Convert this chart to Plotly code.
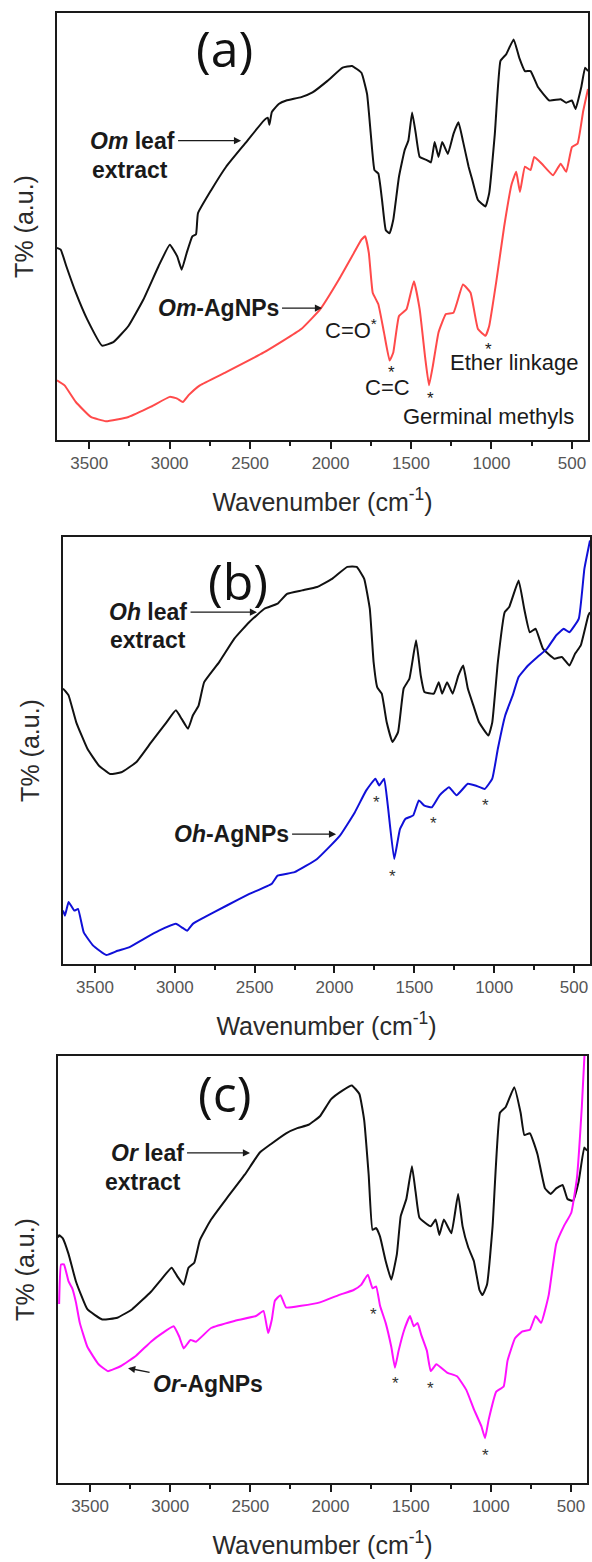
import plotly.graph_objects as go

# ---------------- data (wavenumber cm-1, transmittance a.u.) ----------------
om_leaf_wn = [3700, 3677, 3642, 3583, 3513, 3420, 3350, 3256, 3163, 3069, 2999, 2953, 2925, 2894, 2859, 2836, 2824,
              2742, 2649, 2532, 2415, 2390, 2380, 2365, 2322, 2275, 2182, 2112, 2019, 1925, 1867, 1808, 1773, 1750,
              1727, 1703, 1680, 1657, 1633, 1610, 1575, 1540, 1516, 1493, 1470, 1446, 1399, 1376, 1353, 1329, 1306,
              1271, 1236, 1205, 1177, 1142, 1119, 1084, 1037, 1014, 979, 944, 909, 862, 827, 792, 757, 710, 640, 570,
              535, 500, 477, 442, 418, 400]
om_leaf_t = [45.0, 44.6, 40.7, 34.5, 28.3, 22.1, 22.9, 26.7, 32.9, 40.7, 45.7, 43.0, 39.9, 43.8, 47.7, 48.2, 53.1,
             58.5, 64.0, 69.4, 74.8, 75.5, 73.8, 76.8, 78.7, 79.5, 80.3, 81.4, 84.1, 87.2, 87.6, 86.0, 81.0, 71.7,
             63.2, 62.4, 56.2, 49.2, 48.4, 51.6, 61.6, 67.8, 70.2, 76.7, 71.7, 66.3, 65.5, 65.0, 69.8, 66.3, 69.8,
             67.0, 71.7, 74.4, 70.0, 64.0, 60.9, 56.2, 54.7, 57.8, 71.7, 88.8, 90.3, 93.8, 89.5, 86.4, 86.4, 82.6,
             79.5, 79.8, 79.0, 79.5, 77.5, 82.6, 87.2, 86.4]

om_agnp_wn = [3700, 3653, 3583, 3490, 3396, 3256, 3116, 2999, 2953, 2918, 2882, 2812, 2649, 2415, 2182, 2065, 1948,
              1855, 1808, 1785, 1762, 1738, 1703, 1668, 1633, 1610, 1575, 1528, 1482, 1446, 1411, 1388, 1364, 1329,
              1283, 1236, 1177, 1130, 1084, 1037, 1014, 968, 921, 874, 846, 823, 792, 757, 734, 687, 617, 570, 535,
              500, 465, 430, 400]
om_agnp_t = [14.0, 12.8, 8.9, 5.4, 4.4, 5.4, 7.8, 10.1, 9.7, 8.9, 10.5, 12.8, 15.9, 20.5, 26.0, 30.6, 37.6,
             43.8, 46.9, 47.7, 43.8, 34.5, 31.8, 25.2, 18.6, 20.5, 29.0, 30.6, 37.2, 30.6, 19.0, 12.8, 17.4, 25.2,
             29.5, 29.8, 36.4, 34.5, 26.0, 24.4, 26.7, 37.6, 50.0, 60.0, 62.8, 58.1, 64.0, 63.2, 66.3, 64.7, 62.0,
             64.7, 62.8, 68.6, 69.4, 77.0, 82.2]

oh_leaf_wn = [3700, 3688, 3665, 3617, 3547, 3476, 3405, 3335, 3240, 3146, 3052, 2993, 2957, 2917, 2887, 2851, 2816,
              2722, 2627, 2533, 2439, 2356, 2297, 2203, 2109, 2015, 1920, 1861, 1814, 1779, 1755, 1732, 1704, 1673,
              1637, 1602, 1567, 1531, 1489, 1460, 1437, 1378, 1347, 1326, 1295, 1260, 1224, 1194, 1165, 1130, 1095,
              1036, 1012, 977, 934, 906, 847, 812, 777, 741, 694, 623, 576, 529, 493, 458, 411, 400]
oh_leaf_t = [64.5, 64.0, 62.9, 56.6, 50.4, 46.5, 44.5, 44.9, 47.3, 52.0, 56.6, 59.4, 57.4, 55.1, 58.2, 60.5, 66.0,
             70.7, 76.2, 80.1, 83.2, 84.4, 86.7, 87.5, 88.3, 90.2, 93.0, 93.0, 90.2, 83.2, 70.7, 64.8, 63.3, 56.6,
             52.0, 54.3, 64.5, 66.8, 75.8, 67.6, 63.7, 63.3, 66.0, 63.3, 66.0, 63.3, 67.6, 69.9, 64.5, 60.5, 56.6,
             53.5, 56.6, 70.7, 82.4, 83.6, 89.8, 83.2, 77.7, 78.5, 73.8, 71.5, 71.9, 69.9, 72.7, 74.6, 81.6, 82.4]

oh_agnp_wn = [3700, 3688, 3665, 3629, 3606, 3570, 3511, 3429, 3358, 3287, 3193, 3099, 2993, 2957, 2922, 2887, 2816,
              2674, 2533, 2392, 2356, 2250, 2109, 1967, 1873, 1802, 1744, 1720, 1689, 1666, 1626, 1590, 1555, 1507,
              1472, 1437, 1390, 1342, 1283, 1236, 1165, 1118, 1059, 1012, 977, 931, 884, 847, 788, 729, 670, 611,
              564, 529, 470, 435, 400]
oh_agnp_t = [12.5, 11.3, 14.5, 12.5, 12.9, 7.4, 4.3, 2.1, 3.1, 3.9, 5.9, 7.8, 9.4, 8.6, 7.8, 9.4, 10.9,
             13.7, 16.4, 18.8, 20.7, 21.5, 24.6, 30.0, 35.5, 40.6, 43.4, 41.8, 43.4, 37.1, 24.6, 31.6, 34.0, 34.8,
             38.3, 37.1, 36.7, 39.5, 41.4, 39.5, 42.2, 41.8, 41.0, 43.4, 50.4, 58.2, 62.9, 67.2, 69.9, 71.9, 73.8,
             77.0, 78.5, 77.7, 80.9, 92.6, 99.2]

or_leaf_wn = [3700, 3693, 3670, 3634, 3588, 3517, 3424, 3330, 3237, 3120, 3049, 2991, 2956, 2916, 2886, 2850, 2815,
              2745, 2651, 2535, 2441, 2371, 2277, 2207, 2137, 2066, 1996, 1926, 1867, 1820, 1790, 1762, 1738, 1715,
              1691, 1656, 1621, 1586, 1562, 1527, 1492, 1469, 1445, 1375, 1344, 1321, 1293, 1246, 1204, 1176, 1141,
              1106, 1071, 1052, 1024, 989, 943, 908, 854, 814, 791, 756, 709, 662, 627, 592, 552, 522, 487, 452,
              417, 400]
or_leaf_t = [57.5, 58.0, 57.3, 53.6, 47.2, 40.7, 38.3, 38.7, 40.7, 44.8, 48.0, 50.4, 48.4, 46.4, 50.4, 51.6, 56.9,
             61.7, 66.5, 72.2, 77.4, 79.4, 81.9, 83.1, 83.9, 85.9, 89.9, 91.9, 93.1, 91.1, 85.0, 72.2, 59.3, 59.7,
             57.7, 52.0, 47.6, 53.6, 62.5, 66.5, 74.2, 68.1, 62.1, 60.1, 61.7, 58.1, 61.7, 58.5, 67.7, 60.1, 55.2,
             52.0, 45.2, 44.0, 46.4, 60.1, 86.7, 88.0, 92.7, 86.7, 81.5, 81.9, 77.0, 69.0, 67.7, 69.0, 69.8, 66.5,
             66.1, 70.6, 78.6, 77.8]

or_agnp_wn = [3693, 3681, 3663, 3634, 3611, 3588, 3564, 3517, 3447, 3389, 3307, 3213, 3120, 3049, 2979, 2944, 2916,
              2874, 2839, 2745, 2605, 2465, 2418, 2389, 2366, 2347, 2312, 2277, 2183, 2066, 1949, 1856, 1809, 1767,
              1738, 1715, 1691, 1656, 1621, 1598, 1575, 1540, 1504, 1481, 1457, 1434, 1399, 1375, 1340, 1270, 1211,
              1153, 1106, 1059, 1036, 1013, 966, 920, 896, 849, 803, 756, 721, 686, 639, 592, 545, 498, 463, 432,
              416]
or_agnp_t = [41.9, 51.2, 51.2, 47.2, 45.6, 42.3, 37.5, 31.9, 27.8, 26.2, 27.4, 29.8, 33.1, 35.1, 36.7, 34.3, 31.5,
             33.5, 33.1, 36.3, 37.9, 39.1, 40.3, 35.1, 38.3, 42.7, 44.0, 41.1, 41.5, 42.3, 44.0, 45.2, 46.4, 48.8,
             45.6, 46.0, 41.5, 37.5, 31.9, 27.0, 31.0, 35.9, 39.1, 36.7, 37.5, 34.7, 31.0, 26.2, 27.8, 25.8, 25.0,
             21.8, 17.3, 13.3, 10.5, 14.9, 21.4, 22.6, 28.6, 33.9, 35.5, 35.9, 39.1, 37.5, 44.0, 56.0, 60.1, 63.3,
             71.4, 88.3, 100.0]

tick_vals = [3500, 3000, 2500, 2000, 1500, 1000, 500]
tick_text = ["3500", "3000", "2500", "2000", "1500", "1000", "500"]
x_range = [3700, 400]
y_range = [0, 100]

panel_labels = ["(a)", "(b)", "(c)"]
x_title = "Wavenumber (cm<sup>-1</sup>)"
y_title = "T% (a.u.)"

# ---------------- layout ----------------
W, H = 592, 1562
boxes = [  # left, right, top, bottom in px
    (57, 588, 13, 440),
    (63, 590, 537, 964),
    (58, 587, 1056, 1483),
]

FONT = "Liberation Sans, Arial, sans-serif"
LABEL_FONT = "Open Sans, Noto Sans, sans-serif"
fig = go.Figure()

series = [
    [(om_leaf_wn, om_leaf_t, "#111111", "Om leaf extract"), (om_agnp_wn, om_agnp_t, "#ff4a4a", "Om-AgNPs")],
    [(oh_leaf_wn, oh_leaf_t, "#111111", "Oh leaf extract"), (oh_agnp_wn, oh_agnp_t, "#1010d8", "Oh-AgNPs")],
    [(or_leaf_wn, or_leaf_t, "#111111", "Or leaf extract"), (or_agnp_wn, or_agnp_t, "#ff10ff", "Or-AgNPs")],
]

for i, (box, sers) in enumerate(zip(boxes, series)):
    n = "" if i == 0 else str(i + 1)
    l, r, t, b = box
    xa = dict(
        domain=[l / W, r / W], anchor="y" + n, range=x_range, automargin=False,
        showline=True, linecolor="#1a1a1a", linewidth=2, mirror=True,
        ticks="outside", ticklen=7, tickwidth=2, tickcolor="#1a1a1a",
        tickvals=tick_vals, ticktext=tick_text,
        tickfont=dict(family=FONT, size=17, color="#555555"),
        minor=dict(ticks="outside", ticklen=4, tickwidth=2, tickcolor="#1a1a1a", dtick=250, tick0=250),
        showgrid=False, zeroline=False,
        title=dict(text=x_title, font=dict(family=FONT, size=25, color="#2a2a2a"), standoff=21),
    )
    ya = dict(
        domain=[1 - b / H, 1 - t / H], anchor="x" + n, range=y_range, automargin=False,
        showline=True, linecolor="#1a1a1a", linewidth=2, mirror=True,
        ticks="", showticklabels=False, showgrid=False, zeroline=False,
        title=dict(text=y_title, font=dict(family=FONT, size=25, color="#2a2a2a"), standoff=14),
    )
    fig.update_layout(**{"xaxis" + n: xa, "yaxis" + n: ya})
    for wn, tv, col, name in sers:
        fig.add_trace(go.Scatter(x=wn, y=tv, mode="lines", name=name,
                                 line=dict(color=col, width=2, shape="spline", smoothing=0.35),
                                 xaxis="x" + n, yaxis="y" + n, showlegend=False))

ann = []


def txt(xref, x, y, text, size=22, xanchor="center", color="#1a1a1a", family=FONT, align="center"):
    ann.append(dict(xref=xref, yref=xref.replace("x", "y"), x=x, y=y, text=text, showarrow=False,
                    xanchor=xanchor, yanchor="middle", align=align,
                    font=dict(family=family, size=size, color=color)))


def arrow_label(xref, x, y, text, ax, ay, size=23):
    # label whose arrow points at (x, y); the text box is centred ax, ay pixels away
    ann.append(dict(xref=xref, yref=xref.replace("x", "y"), x=x, y=y, text=text, showarrow=True,
                    ax=ax, ay=ay, arrowhead=2, arrowsize=1.1, arrowwidth=1.3, arrowcolor="#1a1a1a",
                    standoff=0, startstandoff=2,
                    font=dict(family=FONT, size=size, color="#1a1a1a")))


# panel (a)
txt("x", 2656, 91.8, panel_labels[0], size=50, family=LABEL_FONT, color="#111111")
arrow_label("x", 2556, 70.1, "<b><i>Om</i> leaf</b>", -109, 0)
txt("x", 3495, 63.2, "<b>extract</b>", size=23, xanchor="left")
arrow_label("x", 2053, 30.9, "<b><i>Om</i>-AgNPs</b>", -104, 0)
txt("x", 1872, 26.0, "C=O<sup>*</sup>", size=22)
txt("x", 1621, 15.8, "*", size=17)
txt("x", 1645, 12.4, "C=C", size=22)
txt("x", 1376, 9.7, "*", size=17)
txt("x", 1021, 5.5, "Germinal methyls", size=22)
txt("x", 1021, 21.2, "*", size=17)
txt("x", 862, 18.1, "Ether linkage", size=22)

# panel (b)
txt("x2", 2604, 89.8, panel_labels[1], size=50, family=LABEL_FONT, color="#111111")
arrow_label("x2", 2485, 82.4, "<b><i>Oh</i> leaf</b>", -109, 0)
txt("x2", 3418, 75.9, "<b>extract</b>", size=23, xanchor="left")
arrow_label("x2", 1990, 30.4, "<b><i>Oh</i>-AgNPs</b>", -105, 0)
for sx, sy in [(1740, 37.9), (1634, 20.5), (1377, 32.9), (1057, 37.1)]:
    txt("x2", sx, sy, "*", size=17, color="#333333")

# panel (c)
txt("x3", 2664, 91.3, panel_labels[2], size=50, family=LABEL_FONT, color="#111111")
arrow_label("x3", 2502, 77.3, "<b><i>Or</i> leaf</b>", -103, 0)
txt("x3", 3419, 70.5, "<b>extract</b>", size=23, xanchor="left")
arrow_label("x3", 3263, 26.9, "<b><i>Or</i>-AgNPs</b>", 80, 16)
for sx, sy in [(1729, 39.5), (1592, 23.4), (1379, 22.2), (1036, 6.5)]:
    txt("x3", sx, sy, "*", size=17, color="#333333")

fig.update_layout(
    width=W, height=H, margin=dict(l=0, r=0, t=0, b=0, autoexpand=False),
    paper_bgcolor="white", plot_bgcolor="white",
    annotations=ann, showlegend=False,
    font=dict(family=FONT),
)

fig.write_html("out.html", config={"displayModeBar": False, "staticPlot": True},
               post_script="document.body.style.margin='0';document.body.style.overflow='hidden';")
